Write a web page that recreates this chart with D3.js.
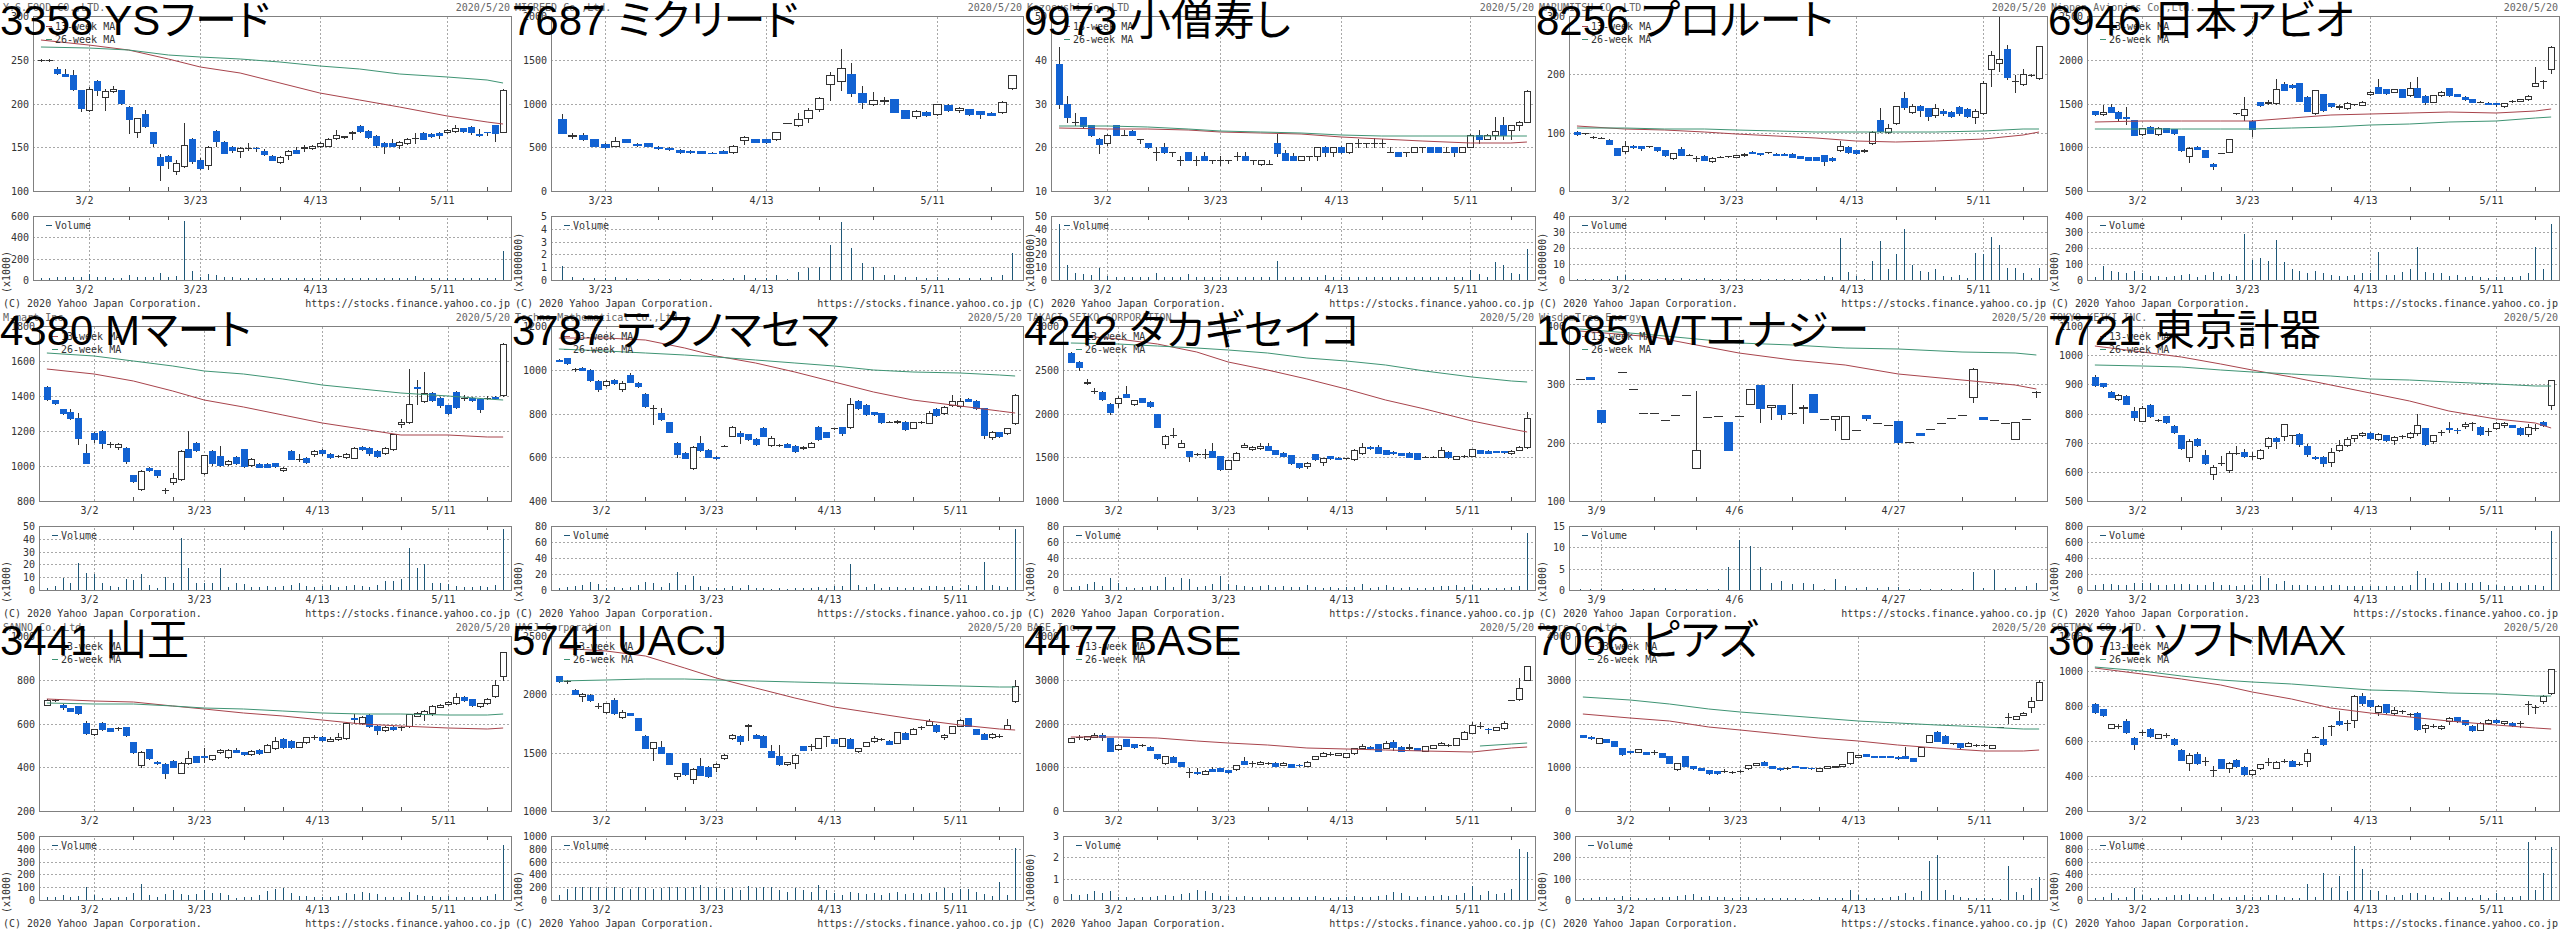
<!DOCTYPE html>
<html><head><meta charset="utf-8">
<script src="https://cdn.jsdelivr.net/npm/d3@7"></script>
<style>body{margin:0;background:#fff}svg{display:block}</style>
</head><body>
<script>
// ---------------- categories ----------------
const tradingDays = ["2/20","2/21","2/25","2/26","2/27","2/28","3/2","3/3","3/4","3/5","3/6","3/9","3/10","3/11","3/12","3/13","3/16","3/17","3/18","3/19","3/23","3/24","3/25","3/26","3/27","3/30","3/31","4/1","4/2","4/3","4/6","4/7","4/8","4/9","4/10","4/13","4/14","4/15","4/16","4/17","4/20","4/21","4/22","4/23","4/24","4/27","4/28","4/30","5/1","5/7","5/8","5/11","5/12","5/13","5/14","5/15","5/18","5/19","5/20"];
const days7687 = ["3/16","3/17","3/18","3/19","3/23","3/24","3/25","3/26","3/27","3/30","3/31","4/1","4/2","4/3","4/6","4/7","4/8","4/9","4/10","4/13","4/14","4/15","4/16","4/17","4/20","4/21","4/22","4/23","4/24","4/27","4/28","4/30","5/1","5/7","5/8","5/11","5/12","5/13","5/14","5/15","5/18","5/19","5/20"];
const days1685 = ["3/5","3/6","3/9","3/10","3/11","3/12","3/13","3/16","3/18","3/19","3/25","3/30","3/31","4/2","4/3","4/6","4/7","4/8","4/9","4/10","4/13","4/14","4/15","4/16","4/17","4/20","4/21","4/22","4/23","4/24","4/27","4/28","4/30","5/1","5/7","5/8","5/11","5/12","5/13","5/14","5/15","5/18","5/19","5/20"];
const gridDates = ["3/2","3/23","4/13","5/11"];
const tickDates = ["3/9","3/16","3/30","4/6","4/20","4/27","5/18"];
const gridDates1685 = ["3/9","4/6","4/27"];
const tickDates1685 = ["3/16","3/30","4/13","4/20","5/11","5/18"];
const maWeeks = ["2/20","3/2","3/9","3/16","3/23","3/30","4/6","4/13","4/20","4/27","5/11","5/18","5/20"];
const maWeeks7687 = [];
const maSlots1685 = ["3/5","3/16","4/6","4/13","4/20","4/27","5/11","5/18","5/20"];
const ma26Weeks4477 = ["5/12","5/18","5/20"];

// ---------------- 3358 YSフード ----------------  [open, high, low, close]
const ohlc3358 = [[250,251,249,250],[250,251,249,250],[239,242,234,235],[234,240,231,232],[233,238,216,217],[215,216,191,195],[193,219,192,217],[226,227,210,216],[208,217,193,214],[214,220,213,217],[215,216,200,201],[196,197,166,182],[167,184,162,183],[188,193,173,174],[167,168,152,155],[139,142,113,130],[140,141,126,134],[123,135,120,132],[129,178,128,153],[159,161,132,134],[136,138,125,126],[130,151,125,150],[169,170,152,157],[156,157,143,144],[150,151,145,147],[146,150,139,149],[149,155,147,149.5],[149.5,150,146,149],[146,148,141,142],[140,141,135,136],[133,140,132,139],[141,147,137,146],[147,150,143,144],[149,153,146,150],[149,153,148,152],[151,156,150,154.5],[152,161,151,160],[161,170,160,164],[162,163,161,162.5],[166,169,160,168],[174,175,168,169],[169,170,161,162],[163,164,150,153],[155,156,144,151],[154.5,160,151,151.5],[153,157,149,156],[155,161,154,160],[160.5,166.7,155,161],[166,167,159,160],[165,166,162,163],[166,167,161,164],[168,171,166,169.7],[168.5,176,168,172],[171.5,172,168,169],[173.5,174,165,168],[165,171,163,164],[167.8,168,164,167.5],[175,176,157,166],[168,217,167,216]];
const vol3358 = [20,20,25,25,30,30,60,25,25,20,20,45,25,25,30,70,30,35,555,85,30,55,50,30,25,20,20,20,20,20,20,20,15,15,15,20,20,15,15,15,20,15,15,15,15,15,15,35,15,15,15,20,20,15,15,15,15,15,275];
const ma13_3358 = [272.6,267,261,251,242,235,223,212,204,196,186,179,177];
const ma26_3358 = [265,264,261,256,253.5,250.5,247,243,239.4,234,230,227,224];

// ---------------- 7687 ミクリード ----------------
const ohlc7687 = [[823,876,660,667],[625,665,610,645],[640,665,585,600],[590,600,510,520],[537,545,495,505],[520,620,510,568],[594,600,560,565],[535,545,515,525],[545,550,510,515],[505,510,480,490],[495,505,465,475],[470,480,440,450],[452,465,440,450],[457,462,435,440],[440,445,432,438],[455,465,435,440],[446,525,440,518],[580,630,533,617],[590,600,560,565],[590,600,550,558],[590,680,580,670],[773,773,773,773],[755,888,745,820],[830,952,792,926],[935,1075,920,1067],[1220,1365,1040,1322],[1258,1620,1150,1402],[1333,1460,1090,1116],[1116,1200,945,1013],[990,1135,985,1040],[1030,1080,995,1035],[1050,1055,900,907],[926,930,830,838],[861,925,830,918],[899,910,860,869],[876,1000,870,990],[979,990,920,926],[928,960,900,952],[937,940,870,876],[914,920,838,880],[895,900,865,870],[899,1025,895,1021],[1173,1325,1165,1322]];
const vol7687 = [1.09,0.26,0.18,0.13,0.13,0.26,0.12,0.05,0.05,0.05,0.05,0.05,0.05,0.05,0.05,0.05,0.18,0.39,0.18,0.18,0.39,0.05,0.65,0.96,1.04,2.73,4.56,2.47,1.35,1.04,0.39,0.39,0.26,0.26,0.18,0.26,0.13,0.13,0.13,0.13,0.26,0.39,2.08];

// ---------------- 9973 小僧寿し ----------------
const ohlc9973 = [[39,43,29,30],[30,31.8,25.8,26.8],[25.8,27.9,25.1,25.8],[26.8,27,24.5,24.9],[25,25.2,22.5,22.8],[22,22.2,18.8,20.7],[20.9,23,20.5,22.8],[25,25.2,22.8,22.9],[22.9,23.9,22.9,22.9],[23.8,24,22.8,22.9],[22,22,20.9,22],[20.9,21,19.9,20],[19,20.1,17.1,19],[20,20.9,18.7,18.9],[18.9,18.9,17.9,18.9],[17.1,17.9,16,17.1],[18.9,19,17,17.1],[17.1,17.9,16,17.1],[18.1,18.9,17,17.1],[17.1,17.1,16.3,17.1],[17.1,17.9,16,17.1],[17.1,17.1,16.4,17.1],[18.1,18.9,17.1,18.1],[18.1,18.9,17,17.1],[17.1,17.1,16.1,17.1],[16.1,17.1,16,17.1],[16.1,17.1,16.1,16.1],[20.9,23,18,18.8],[18.8,19.4,17,17.1],[18.1,18.7,17,17.1],[17.1,18,17,18],[18,18,17.1,18],[18,20,17.1,20],[20,20.2,17.9,18.9],[18.9,20,17.9,20],[20,20.2,18.8,18.9],[18.9,21,18.8,20.9],[20.9,22,20,20.9],[20.9,20.9,20,20.9],[20.9,22.2,20,20.9],[20.9,22,20,20.9],[19,20,19,19],[18.9,19,18,18],[18.9,18.9,17.9,18.9],[18.9,20,18.9,20],[20,20,18.9,20],[20,20,18.9,18.9],[20,20,18.9,18.9],[18.9,20,18.9,18.9],[20,20,17.9,18.9],[18.9,20,18.9,20],[20,23,20,22.9],[22.9,23.9,20.9,22],[22,23,22,22.9],[22.9,27,22,23.8],[25,27,22,22.9],[23.9,25,22,25],[25,26,23.9,25.8],[25.8,33,25.8,32.9]];
const vol9973 = [43.7,11.7,5.2,4.7,3.9,9.6,3.1,2.6,2.6,2.6,2.6,2.6,5.7,2.6,2.6,2.6,4.7,2.6,2.6,2.6,2.1,2.1,2.6,2.6,2.6,2.1,2.1,14.8,2.6,2.6,2.1,2.1,2.6,3.9,2.6,2.6,2.1,2.1,2.1,2.1,2.1,2.1,2.1,2.1,2.6,2.1,2.1,2.1,2.1,2.1,2.1,7.8,4.7,2.6,13.8,11.7,5.7,4.7,24];
const ma13_9973 = [24.3,24.2,24.1,23.9,23.6,23.3,23.0,22.4,22.0,21.5,20.9,21.0,21.1];
const ma26_9973 = [24.9,24.8,24.6,24.1,23.8,23.5,23.2,22.7,22.6,22.6,22.6,22.6,22.6];

// ---------------- 8256 プロルート ----------------
const ohlc8256 = [[101,103,96,98],[99,100,98,99],[93,94,91,93],[91.5,92.5,90.5,91.5],[88,89,80,81],[73,74,62,62.5],[68,85,66,77],[78,79,74,75],[77,78,70,74],[76.7,77.5,76,76.7],[75,76,69,70],[70,71,60,61],[57,66,55,65],[72,75,62,62.5],[62.5,63.5,61.5,62.5],[56.8,59.7,51,56.8],[60,61,53,54],[51,58,50,57],[58.5,59.5,57.5,58.5],[59.7,60.5,59,59.7],[58.5,62,58,62],[61,65,60,64],[67.6,68,65,65.3],[65,66,62.5,63],[66.5,67,66,66.5],[64,65,61.5,62],[64,65,61.5,62],[64,65,58,58.5],[59.7,60.5,56,56.3],[58.5,59,53.5,54],[58.5,59,53.5,54],[61,62,45,51],[57.4,58,52,52.8],[70,85,68,77],[75,77,66,67],[70,71,64,65],[68.2,72,67,71],[82.4,103,80,102],[122,142,102,103],[102,115,100,108],[116.5,146,115,145],[160,170,140,144],[135,150,133,145],[145,147,129,139],[142,143,122,129],[129.5,150,127,142],[137.5,140,131,133.5],[136,138,127,129],[144,146,131,133.5],[140,142,127,129],[127,140,116,137.5],[133.5,188,132,186],[210,240,180,234],[219,298,205,227],[242.6,250,192,196],[188.6,199,169,188.6],[183.5,210,182,200],[199,200,197,199],[193,249,192,248]];
const vol8256 = [0.8,0.6,0.6,0.6,0.8,2.5,3.1,0.6,0.6,0.5,0.6,1,0.6,1,0.6,0.8,1,0.6,0.5,0.5,0.5,0.5,0.5,0.5,0.5,0.5,0.5,0.5,0.5,0.5,0.5,2.5,2.1,26.5,5.2,2.5,0.8,11.9,24.6,6.7,16.2,31.9,9.4,5.8,5.2,6.7,2.5,1.7,3.1,1,17,16,27,21.9,7.3,7.3,4.2,1,7.3];
const ma13_8256 = [110.8,106,104,101,98,95,90.5,86,84,85,88.5,96,101];
const ma26_8256 = [108,107.5,107,105.5,104.5,103,101.5,100.5,100.6,101,103,105.5,106.8];

// ---------------- 6946 日本アビオ ----------------
const ohlc6946 = [[1414,1420,1370,1376],[1376,1480,1370,1407],[1464,1490,1400,1407],[1407,1410,1310,1330],[1342,1456,1265,1330],[1311,1315,1135,1140],[1148,1225,1140,1216],[1235,1240,1160,1167],[1148,1230,1140,1216],[1216,1225,1170,1178],[1205,1210,1150,1159],[1129,1130,960,968],[904,1000,835,988],[1003,1010,975,984],[968,970,890,892],[808,815,748,786],[938,940,935,938],[950,1095,945,1091],[1388,1390,1385,1388],[1369,1580,1311,1433],[1304,1310,1129,1205],[1513,1520,1470,1483],[1505,1540,1500,1512],[1502,1776,1495,1662],[1723,1750,1650,1654],[1711,1720,1680,1692],[1730,1735,1530,1532],[1578,1590,1410,1418],[1388,1660,1385,1654],[1604,1610,1420,1426],[1502,1510,1460,1471],[1460,1480,1433,1475],[1445,1515,1440,1502],[1490,1500,1480,1490],[1483,1530,1480,1521],[1604,1640,1595,1627],[1685,1776,1620,1624],[1662,1670,1610,1616],[1635,1670,1630,1662],[1662,1670,1570,1578],[1597,1750,1590,1673],[1673,1807,1570,1578],[1589,1595,1490,1521],[1521,1600,1515,1597],[1597,1640,1590,1627],[1673,1680,1590,1597],[1604,1610,1585,1589],[1578,1585,1540,1548],[1548,1555,1515,1521],[1521,1530,1512,1521],[1510,1515,1495,1500],[1502,1510,1470,1490],[1471,1505,1465,1502],[1529,1540,1520,1529],[1529,1555,1525,1548],[1548,1595,1540,1589],[1700,1921,1695,1738],[1757,1770,1680,1757],[1890,2155,1845,2150]];
const vol6946 = [21,87,56,52,46,58,46,25,25,21,25,31,35,17,31,52,25,37,25,287,125,140,119,250,115,67,58,42,58,42,31,25,25,31,42,46,173,31,31,52,67,204,52,46,42,25,31,21,25,21,10,17,21,17,25,42,204,67,348];
const ma13_6946 = [1292,1296,1300,1300,1304,1330,1365,1385,1395,1400,1395,1415,1437];
const ma26_6946 = [1205,1205,1205,1205,1205,1215,1235,1255,1270,1285,1305,1330,1342];

// ---------------- 4380 Mマート ----------------
const ohlc4380 = [[1453,1460,1380,1385],[1377,1380,1355,1362],[1324,1328,1300,1305],[1309,1324,1270,1276],[1276,1305,1124,1162],[1072,1124,1015,1019],[1190,1195,1140,1152],[1200,1205,1105,1130],[1124,1135,1110,1124],[1109,1130,1100,1128],[1105,1110,1020,1029],[947,950,910,914],[870,975,865,971],[990,995,970,977],[975,980,940,947],[863,876,848,863],[909,960,900,933],[924,1090,920,1086],[1095,1200,1050,1053],[1133,1135,1085,1091],[958,1065,955,1061],[1086,1090,1005,1015],[1057,1115,1000,1004],[1010,1035,1005,1029],[1053,1060,1010,1015],[1095,1100,995,1000],[1004,1045,1000,1042],[1010,1015,992,996],[1010,1015,992,996],[1015,1020,995,1000],[975,995,970,990],[1086,1090,1040,1042],[1042,1067,1029,1042],[1044,1050,1020,1025],[1067,1090,1060,1086],[1091,1095,1065,1072],[1067,1072,1048,1053],[1057,1065,1050,1057],[1051,1072,1048,1067],[1048,1110,1045,1105],[1109,1115,1090,1095],[1105,1110,1065,1072],[1086,1090,1050,1057],[1072,1110,1068,1105],[1095,1185,1090,1181],[1238,1267,1225,1251],[1251,1552,1245,1356],[1453,1490,1352,1448],[1372,1539,1365,1415],[1419,1425,1370,1377],[1390,1395,1340,1347],[1347,1350,1300,1305],[1425,1430,1330,1337],[1390,1403,1380,1390],[1390,1395,1370,1375],[1381,1390,1309,1328],[1390,1398,1382,1390],[1396,1400,1382,1387],[1404,1700,1400,1699]];
const vol4380 = [1.3,3.1,9.1,5.2,21.4,13.5,12.2,5.2,3.1,2.6,8.3,7.8,12.5,3.9,1.3,10.4,5.2,40.4,16.9,5.7,5.2,5.7,17.4,2.6,5.7,4.7,2.6,2.1,3.1,2.1,3.1,3.9,5.2,3.1,2.6,3.1,3.9,2.6,3.1,3.9,3.1,2.6,3.9,7.3,7.3,8.3,33,17.4,20.3,5.7,5.2,4.7,3.1,2.6,2.6,3.1,2.6,3.9,47.6];
const ma13_4380 = [1556,1525,1485,1430,1380,1340,1290,1245,1210,1178,1175,1166,1168];
const ma26_4380 = [1648,1628,1600,1570,1545,1525,1497,1465,1440,1415,1398,1385,1377];

// ---------------- 3787 テクノマセマ ----------------
const ohlc3787 = [[1045,1047,1038,1040],[1052,1055,1025,1029],[1002,1010,995,1002],[1010,1012,997,999],[999,1002,950,953],[950,952,905,910],[930,955,925,950],[953,960,935,938],[910,950,905,941],[976,985,943,946],[941,945,920,926],[889,895,830,836],[824,839,750,824],[801,827,770,773],[760,762,715,717],[664,670,600,613],[618,622,595,598],[549,650,545,645],[667,697,630,633],[633,640,600,603],[603,606,594,596],[653,655,651,653],[699,745,695,740],[712,720,664,697],[705,708,680,683],[683,686,658,661],[732,740,695,697],[656,695,650,686],[656,662,650,656],[661,664,645,648],[651,654,626,629],[641,651,638,648],[648,670,645,667],[740,743,679,682],[714,717,691,694],[732,736,728,732],[737,740,700,712],[737,870,735,842],[857,860,820,824],[839,842,795,798],[805,808,795,798],[801,804,757,760],[763,767,759,763],[760,769,757,766],[763,766,726,729],[735,763,732,760],[763,768,758,763],[758,810,755,804],[820,823,790,793],[801,834,798,831],[839,885,835,859],[834,870,830,859],[866,869,856,859],[859,862,821,824],[824,826,687,702],[691,720,685,717],[714,717,694,697],[709,735,705,732],[755,887,750,885]];
const vol3787 = [2,4,5,6,10,7,3,4,3,4,6,10,9,4,9,22,6,17,5,4,3,3,5,3,6,2,2,1,2,1,2,2,3,4,3,5,5,32,6,4,7,3,4,4,3,4,3,5,5,4,5,2,6,5,35,6,5,4,76];
const ma13_3787 = [1146,1144,1135,1100,1065,1030,990,945,900,860,835,812,801];
const ma26_3787 = [1093,1085,1078,1068,1060,1045,1030,1016,1000,990,983,975,971];

// ---------------- 4242 タカギセイコ ----------------
const ohlc4242 = [[2688,2700,2590,2593],[2593,2600,2500,2528],[2345,2400,2340,2364],[2257,2290,2235,2257],[2250,2255,2160,2162],[2109,2115,1995,2021],[2124,2200,2080,2174],[2223,2314,2190,2193],[2105,2160,2100,2155],[2174,2180,2130,2135],[2135,2140,2080,2086],[1994,2000,1845,1850],[1648,1750,1602,1743],[1754,1830,1735,1754],[1621,1697,1615,1667],[1571,1575,1461,1514],[1537,1545,1530,1537],[1537,1600,1490,1537],[1575,1660,1500,1507],[1514,1520,1360,1366],[1366,1470,1362,1469],[1469,1555,1465,1552],[1621,1660,1615,1640],[1590,1625,1585,1621],[1602,1660,1598,1629],[1629,1667,1580,1583],[1583,1588,1533,1537],[1552,1556,1510,1514],[1526,1530,1428,1431],[1438,1440,1380,1385],[1400,1445,1373,1438],[1537,1540,1470,1476],[1450,1495,1408,1488],[1514,1518,1485,1488],[1495,1500,1477,1480],[1488,1495,1482,1488],[1476,1590,1470,1583],[1545,1667,1540,1613],[1621,1625,1598,1602],[1613,1640,1548,1552],[1583,1587,1533,1537],[1564,1568,1541,1545],[1545,1549,1522,1526],[1552,1556,1503,1507],[1545,1549,1476,1480],[1507,1512,1502,1507],[1507,1512,1502,1507],[1507,1613,1505,1583],[1564,1568,1495,1499],[1480,1518,1476,1514],[1514,1530,1505,1514],[1514,1600,1510,1590],[1583,1587,1548,1552],[1575,1579,1548,1552],[1570,1574,1556,1560],[1570,1574,1552,1556],[1545,1579,1541,1575],[1583,1630,1580,1621],[1613,2021,1610,1945]];
const vol4242 = [4,5,7.5,10.4,5,14.6,8.3,3.3,2,4,5,5,16.7,4,14.6,13.3,4,5,7.5,17.9,7.5,6,5,4,5,6,4,5,4,4,6,4,3,4,3,4,4,7.5,3,4,6,4,3,4,3,3,4,5,5,6,4,6,3,3,3,3,4,5,71.7];
const ma13_4242 = [2897,2850,2790,2700,2593,2500,2400,2280,2160,2050,1920,1820,1793];
const ma26_4242 = [2810,2790,2775,2745,2730,2690,2640,2595,2550,2490,2420,2370,2356];

// ---------------- 1685 WTエナジー ----------------
const ohlc1685 = [[310,310,310,310],[312,312,310,310],[256,256,233,235],null,[322,322,322,322],[292,292,292,292],[250.6,250.6,250.6,250.6],[250.6,250.6,250.6,250.6],[239,239,239,239],[247,247,247,247],[282,282,282,282],[157,289,157,188],[243.8,243.8,243.8,243.8],[245,245,245,245],[236,236,187,187],[245,245,245,245],[266.5,292,266,291.5],[299,299,235,259],[261,264,240,264],[264,264,240,249],[250.6,300,250,250.6],[259,264,233,262],[283,283,252,252],[241,241,241,241],[240,246,221,245],[206,245,206,245],[221,221,221,221],[246.6,247,239,242],[233.5,233.5,233.5,233.5],[229.5,229.5,229.5,229.5],[237.5,238,198,201],[202,202,202,202],[216.5,217,213,213.6],[223.3,223.3,223.3,223.3],[233.5,233.5,233.5,233.5],[242,242,242,242],[247.7,247.7,247.7,247.7],[279,328,270,327],[243.8,243.8,240,240],[239,239,239,239],[233.5,233.5,233.5,233.5],[206,235,206,235],[240,240,240,240],[287.5,288,278,287.5]];
const vol1685 = [0.1,0.2,0.2,0,0.2,0.2,0.2,0.4,0.4,0.2,0.2,0.2,0.2,0.2,5.3,11.7,10.3,5.5,1.6,2,1.4,1.6,1.4,0.2,2.5,0.9,0.4,0.8,0.4,0.6,0.8,0.2,0.2,0.2,0.2,0.2,0.2,4.3,0.4,4.7,0.4,0.8,0.9,1.6];
const ma13_1685 = [392,381,354,341.5,333,317.6,307,299,291.5];
const ma26_1685 = [395.5,384,371,367,363,360,355.7,353,350];

// ---------------- 7721 東京計器 ----------------
const ohlc7721 = [[925,932,895,898],[903,906,890,895],[873,876,855,857],[850,866,848,864],[860,862,832,834],[810,823,779,787],[776,825,774,819],[830,834,788,792],[779,782,776,779],[790,792,768,770],[756,762,732,736],[725,727,680,682],[652,712,637,705],[712,716,689,691],[659,675,627,629],[594,625,574,617],[630,655,625,630],[608,670,600,666],[666,689,662,666],[669,679,650,655],[655,668,645,655],[646,678,644,675],[689,720,682,716],[716,720,682,705],[722,765,708,763],[725,726,700,725],[729,732,690,695],[689,695,655,662],[652,655,645,647],[651,655,621,631],[635,682,621,669],[675,709,672,691],[693,720,690,714],[716,728,705,725],[725,738,722,733],[733,738,712,716],[712,732,708,729],[725,728,706,709],[709,722,695,720],[722,725,716,722],[718,736,715,733],[732,800,725,759],[749,752,692,695],[705,728,700,725],[736,742,725,736],[752,770,738,747],[745,752,732,743],[756,772,752,763],[766,772,745,766],[753,756,725,729],[739,749,727,739],[752,772,748,769],[759,770,755,767],[759,762,753,755],[752,755,727,729],[729,763,722,753],[752,765,742,752],[772,775,757,760],[830,916,817,914]];
const vol7721 = [63,73,73,63,63,82,82,82,63,63,73,73,73,63,63,97,63,63,48,63,63,170,145,73,107,63,63,63,48,48,63,63,48,48,48,48,48,48,48,48,63,243,145,82,82,97,82,82,87,97,63,63,48,48,48,63,63,48,737];
const ma13_7721 = [1030,1010,993,970,948,925,898,870,843,810,782,768,752];
const ma26_7721 = [965,962,958,950,943,935,928,920,915,908,900,896,895];

// ---------------- 3441 山王 ----------------
const ohlc3441 = [[685,710,683,707],[707,712,702,707],[685,688,665,674],[669,672,657,659],[680,682,642,650],[601,613,552,555],[551,576,548,573],[601,605,570,573],[578,580,565,567],[578,583,572,578],[582,585,545,547],[514,516,467,471],[410,473,403,471],[482,485,438,441],[425,428,415,418],[415,418,350,375],[430,433,400,403],[375,425,372,421],[418,474,415,441],[451,453,423,425],[451,490,425,445],[436,458,433,456],[468,482,465,479],[445,483,442,479],[479,486,468,471],[468,471,457,460],[460,479,457,476],[479,482,461,464],[471,505,468,502],[487,540,484,522],[528,532,488,491],[522,525,488,491],[494,517,491,514],[514,540,511,537],[537,548,530,537],[540,545,522,525],[522,540,518,529],[528,555,525,540],[532,605,528,601],[627,642,601,621],[601,635,598,631],[639,642,585,589],[589,592,550,570],[570,589,567,586],[586,589,570,573],[582,588,569,582],[589,645,585,642],[636,653,633,650],[642,660,615,657],[646,685,640,680],[677,688,674,685],[689,703,686,700],[692,741,690,720],[723,726,705,707],[710,713,682,685],[680,696,674,692],[692,715,690,710],[726,799,722,776],[817,927,799,925]];
const vol3441 = [26,21,39,21,31,104,39,13,13,26,26,52,122,39,26,47,78,47,39,47,78,52,57,39,13,26,21,39,73,83,91,57,31,31,21,26,26,31,52,47,65,57,47,26,21,26,65,39,31,31,21,31,26,26,21,26,31,47,430];
const ma13_3441 = [711,705,697,680,667,650,633,617,600,588,580,577,578];
const ma26_3441 = [692,691,690,682,673,665,657,650,645,642,641,641,642];

// ---------------- 5741 UACJ ----------------
const ohlc5741 = [[2154,2160,2105,2111],[2111,2125,2100,2111],[2040,2045,2000,2006],[1983,2010,1940,2003],[1997,2000,1945,1949],[1903,1926,1883,1903],[1846,1930,1840,1926],[1949,1969,1835,1840],[1803,1863,1800,1846],[1840,1843,1823,1826],[1798,1800,1695,1698],[1647,1650,1538,1541],[1541,1595,1441,1590],[1547,1598,1495,1499],[1499,1500,1400,1407],[1299,1325,1276,1322],[1413,1415,1310,1313],[1276,1365,1242,1362],[1385,1456,1305,1308],[1379,1382,1290,1299],[1379,1410,1342,1407],[1456,1487,1450,1484],[1627,1660,1620,1655],[1647,1650,1578,1598],[1726,1745,1612,1741],[1655,1658,1624,1627],[1647,1650,1547,1550],[1513,1570,1460,1464],[1470,1564,1395,1399],[1399,1422,1396,1419],[1413,1487,1370,1484],[1556,1559,1524,1527],[1561,1578,1527,1561],[1541,1630,1538,1627],[1641,1647,1561,1641],[1618,1621,1581,1584],[1561,1630,1558,1627],[1621,1624,1538,1541],[1513,1544,1510,1541],[1556,1593,1553,1590],[1598,1640,1595,1627],[1618,1630,1605,1618],[1604,1607,1575,1578],[1584,1680,1580,1675],[1670,1673,1618,1621],[1664,1710,1660,1704],[1718,1730,1705,1718],[1741,1792,1738,1769],[1741,1744,1681,1684],[1635,1660,1621,1655],[1670,1729,1667,1726],[1732,1790,1730,1783],[1798,1800,1728,1732],[1704,1707,1661,1664],[1664,1667,1615,1618],[1635,1665,1630,1661],[1647,1660,1635,1647],[1707,1792,1705,1735],[1940,2125,1935,2068]];
const vol5741 = [78,167,208,208,198,208,182,208,182,167,208,182,167,182,208,208,182,208,234,208,182,167,182,156,219,182,208,208,156,130,182,156,130,234,156,115,78,130,115,94,115,78,115,130,94,104,94,115,130,182,115,167,167,130,94,63,286,78,818];
const ma13_5741 = [2396,2375,2330,2230,2140,2055,1970,1890,1840,1790,1740,1705,1692];
const ma26_5741 = [2117,2125,2131,2130,2125,2115,2103,2095,2085,2077,2070,2062,2060];

// ---------------- 4477 BASE ----------------
const ohlc4477 = [[1585,1670,1580,1661],[1684,1730,1650,1684],[1638,1720,1630,1714],[1699,1790,1695,1737],[1737,1790,1623,1684],[1661,1670,1365,1372],[1410,1525,1400,1516],[1638,1645,1480,1486],[1532,1540,1450,1455],[1509,1540,1480,1509],[1470,1475,1390,1394],[1303,1310,1200,1204],[1090,1265,1080,1257],[1242,1250,1120,1128],[1128,1130,1020,1029],[899,990,785,899],[899,975,840,876],[846,930,840,922],[952,1013,910,914],[975,980,915,922],[937,942,880,884],[952,1058,948,1052],[1150,1227,1070,1074],[1090,1150,1030,1090],[1074,1135,1070,1128],[1105,1130,1080,1105],[1105,1110,1025,1029],[1052,1110,1048,1105],[1074,1080,995,998],[1055,1065,1040,1052],[1029,1135,1025,1128],[1181,1262,1178,1257],[1257,1340,1252,1334],[1303,1340,1270,1303],[1280,1325,1275,1318],[1242,1325,1238,1318],[1318,1440,1310,1433],[1433,1532,1430,1486],[1470,1480,1428,1433],[1532,1540,1375,1379],[1433,1608,1430,1547],[1585,1623,1395,1470],[1470,1475,1375,1379],[1433,1530,1428,1455],[1433,1440,1390,1394],[1379,1490,1375,1486],[1433,1515,1430,1509],[1509,1570,1505,1562],[1509,1540,1480,1509],[1509,1665,1505,1661],[1638,1820,1635,1814],[1791,2042,1780,1966],[1943,2040,1890,1943],[1880,1890,1790,1867],[1852,1920,1848,1913],[1890,2057,1880,2019],[2537,2540,2534,2537],[2553,3033,2540,2804],[2995,3320,2990,3315]];
const vol4477 = [0.28,0.23,0.27,0.42,0.31,0.42,0.16,0.13,0.11,0.13,0.16,0.19,0.23,0.19,0.28,0.31,0.47,0.42,0.31,0.19,0.19,0.16,0.19,0.16,0.13,0.13,0.16,0.16,0.16,0.16,0.16,0.19,0.13,0.11,0.13,0.16,0.19,0.16,0.13,0.19,0.23,0.39,0.31,0.19,0.16,0.19,0.19,0.23,0.19,0.23,0.34,0.67,0.23,0.42,0.28,0.34,0.5,2.38,2.23];
const ma13_4477 = [1699,1690,1670,1610,1562,1500,1448,1410,1385,1370,1356,1430,1471];
const ma26_4477 = [1494,1530,1547];

// ---------------- 7066 ピアズ ----------------
const ohlc7066 = [[1737,1745,1690,1699],[1699,1705,1655,1661],[1562,1670,1555,1661],[1646,1650,1580,1585],[1600,1605,1480,1486],[1433,1440,1290,1303],[1372,1378,1335,1341],[1356,1415,1350,1410],[1356,1360,1298,1303],[1341,1390,1300,1341],[1318,1322,1238,1242],[1257,1262,1100,1105],[952,1095,945,1090],[1257,1262,1025,1029],[1036,1040,970,975],[975,980,932,937],[937,942,856,861],[914,918,856,861],[922,960,890,922],[899,905,860,899],[914,940,890,914],[975,1056,970,1052],[1052,1094,1048,1090],[1128,1133,1048,1052],[1029,1033,985,990],[990,994,948,952],[990,1010,970,990],[1036,1040,1009,1013],[1013,1017,986,990],[990,994,971,975],[914,994,910,990],[990,1040,986,1036],[1013,1040,1009,1036],[1036,1078,1032,1074],[1090,1360,1085,1356],[1242,1284,1238,1280],[1295,1299,1253,1257],[1257,1261,1223,1227],[1257,1261,1223,1227],[1257,1261,1223,1227],[1242,1246,1200,1204],[1257,1455,1215,1219],[1204,1208,1139,1143],[1257,1459,1253,1455],[1585,1741,1581,1737],[1814,1830,1600,1608],[1722,1726,1543,1547],[1547,1551,1530,1547],[1547,1551,1451,1455],[1486,1566,1482,1562],[1509,1530,1490,1509],[1509,1525,1495,1509],[1433,1513,1429,1509],[1913,1913,1913,1913],[2141,2248,2004,2141],[2096,2176,2092,2172],[2195,2252,2191,2248],[2370,2614,2260,2522],[2537,2995,2530,2957]];
const vol7066 = [8,11,12,16,8,19,12,11,8,8,12,16,19,23,28,16,19,16,12,8,12,16,8,8,8,8,11,8,6,6,16,8,8,8,47,23,8,8,8,12,19,31,16,44,184,211,47,23,16,8,8,8,8,3,159,39,23,55,109];
const ma13_7066 = [2210,2130,2050,1930,1852,1760,1680,1600,1520,1440,1372,1380,1394];
const ma26_7066 = [2598,2530,2440,2340,2271,2200,2135,2065,2010,1960,1913,1880,1867];

// ---------------- 3671 ソフトMAX ----------------
const ohlc3671 = [[811,815,762,766],[781,785,745,748],[675,700,672,698],[687,700,675,687],[714,725,645,651],[619,625,552,585],[651,665,635,651],[669,675,625,628],[619,642,616,639],[635,645,625,635],[612,615,580,583],[549,552,490,493],[473,530,432,522],[527,535,470,473],[488,510,465,488],[432,460,400,432],[495,498,445,448],[443,480,425,477],[493,500,450,455],[450,455,405,410],[414,440,403,437],[443,470,438,466],[482,505,465,482],[448,485,445,482],[488,500,480,488],[488,491,456,459],[470,482,462,470],[488,552,455,529],[624,627,621,624],[612,680,580,583],[687,690,635,687],[714,770,690,698],[703,718,665,703],[720,865,680,860],[860,875,808,820],[833,836,797,800],[764,805,750,800],[811,814,761,764],[759,797,755,777],[770,778,762,770],[754,762,745,754],[759,765,665,669],[673,695,651,691],[687,695,680,687],[673,690,670,687],[714,735,696,729],[736,739,711,714],[718,721,693,696],[687,690,659,662],[664,706,661,703],[703,723,700,720],[720,723,704,707],[703,717,700,714],[703,706,688,691],[703,712,680,703],[811,827,754,811],[793,804,760,793],[831,865,815,860],[876,1013,870,1011]];
const vol3671 = [31,49,110,31,49,190,80,31,31,49,80,80,92,49,49,92,31,49,49,80,49,49,80,80,49,31,31,252,49,417,190,374,141,847,479,153,141,80,49,80,110,110,80,49,31,129,49,49,31,80,31,110,49,49,67,908,160,417,828];
const ma13_3671 = [1018,985,955,920,880,840,786,762,738,712,690,673,669];
const ma26_3671 = [1022,1000,973,950,940,928,910,893,885,875,866,860,860];

// ---------------- panel definitions ----------------
const panels = [
 {code:"3358 YSフード", company:"Y.S.FOOD CO.,LTD.", dates:tradingDays, ohlc:ohlc3358, vol:vol3358, ma13:ma13_3358, ma13Dates:maWeeks, ma26:ma26_3358, ma26Dates:maWeeks, yDomain:[100,300], yStep:50, volMax:600, volStep:200, volUnit:"(x1000)", grid:gridDates, ticks:tickDates},
 {code:"7687 ミクリード", company:"MICREED Co.,Ltd.", dates:days7687, ohlc:ohlc7687, vol:vol7687, ma13:null, ma13Dates:maWeeks7687, ma26:null, ma26Dates:maWeeks7687, yDomain:[0,2000], yStep:500, volMax:5, volStep:1, volUnit:"(x1000000)", grid:gridDates, ticks:tickDates},
 {code:"9973 小僧寿し", company:"Kozosushi Co.,LTD", dates:tradingDays, ohlc:ohlc9973, vol:vol9973, ma13:ma13_9973, ma13Dates:maWeeks, ma26:ma26_9973, ma26Dates:maWeeks, yDomain:[10,50], yStep:10, volMax:50, volStep:10, volUnit:"(x1000000)", grid:gridDates, ticks:tickDates},
 {code:"8256 プロルート", company:"MARUMITSU CO.,LTD.", dates:tradingDays, ohlc:ohlc8256, vol:vol8256, ma13:ma13_8256, ma13Dates:maWeeks, ma26:ma26_8256, ma26Dates:maWeeks, yDomain:[0,300], yStep:100, volMax:40, volStep:10, volUnit:"(x1000000)", grid:gridDates, ticks:tickDates},
 {code:"6946 日本アビオ", company:"Nippon Avionics Co.,Ltd.", dates:tradingDays, ohlc:ohlc6946, vol:vol6946, ma13:ma13_6946, ma13Dates:maWeeks, ma26:ma26_6946, ma26Dates:maWeeks, yDomain:[500,2500], yStep:500, volMax:400, volStep:100, volUnit:"(x1000)", grid:gridDates, ticks:tickDates},
 {code:"4380 Mマート", company:"M-mart Inc.", dates:tradingDays, ohlc:ohlc4380, vol:vol4380, ma13:ma13_4380, ma13Dates:maWeeks, ma26:ma26_4380, ma26Dates:maWeeks, yDomain:[800,1800], yStep:200, volMax:50, volStep:10, volUnit:"(x1000)", grid:gridDates, ticks:tickDates},
 {code:"3787 テクノマセマ", company:"Techno Mathematical Co.,Ltd.", dates:tradingDays, ohlc:ohlc3787, vol:vol3787, ma13:ma13_3787, ma13Dates:maWeeks, ma26:ma26_3787, ma26Dates:maWeeks, yDomain:[400,1200], yStep:200, volMax:80, volStep:20, volUnit:"(x1000)", grid:gridDates, ticks:tickDates},
 {code:"4242 タカギセイコ", company:"TAKAGI SEIKO CORPORATION", dates:tradingDays, ohlc:ohlc4242, vol:vol4242, ma13:ma13_4242, ma13Dates:maWeeks, ma26:ma26_4242, ma26Dates:maWeeks, yDomain:[1000,3000], yStep:500, volMax:80, volStep:20, volUnit:"(x1000)", grid:gridDates, ticks:tickDates},
 {code:"1685 WTエナジー", company:"WisdomTree Energy", dates:days1685, ohlc:ohlc1685, vol:vol1685, ma13:ma13_1685, ma13Dates:maSlots1685, ma26:ma26_1685, ma26Dates:maSlots1685, yDomain:[100,400], yStep:100, volMax:15, volStep:5, volUnit:"(x1000)", grid:gridDates1685, ticks:tickDates1685},
 {code:"7721 東京計器", company:"TOKYO KEIKI INC.", dates:tradingDays, ohlc:ohlc7721, vol:vol7721, ma13:ma13_7721, ma13Dates:maWeeks, ma26:ma26_7721, ma26Dates:maWeeks, yDomain:[500,1100], yStep:100, volMax:800, volStep:200, volUnit:"(x1000)", grid:gridDates, ticks:tickDates},
 {code:"3441 山王", company:"SANNO Co.,Ltd.", dates:tradingDays, ohlc:ohlc3441, vol:vol3441, ma13:ma13_3441, ma13Dates:maWeeks, ma26:ma26_3441, ma26Dates:maWeeks, yDomain:[200,1000], yStep:200, volMax:500, volStep:100, volUnit:"(x1000)", grid:gridDates, ticks:tickDates},
 {code:"5741 UACJ", company:"UACJ Corporation", dates:tradingDays, ohlc:ohlc5741, vol:vol5741, ma13:ma13_5741, ma13Dates:maWeeks, ma26:ma26_5741, ma26Dates:maWeeks, yDomain:[1000,2500], yStep:500, volMax:1000, volStep:200, volUnit:"(x1000)", grid:gridDates, ticks:tickDates},
 {code:"4477 BASE", company:"BASE,Inc.", dates:tradingDays, ohlc:ohlc4477, vol:vol4477, ma13:ma13_4477, ma13Dates:maWeeks, ma26:ma26_4477, ma26Dates:ma26Weeks4477, yDomain:[0,4000], yStep:1000, volMax:3, volStep:1, volUnit:"(x1000000)", grid:gridDates, ticks:tickDates},
 {code:"7066 ピアズ", company:"Peers Co.,Ltd.", dates:tradingDays, ohlc:ohlc7066, vol:vol7066, ma13:ma13_7066, ma13Dates:maWeeks, ma26:ma26_7066, ma26Dates:maWeeks, yDomain:[0,4000], yStep:1000, volMax:300, volStep:100, volUnit:"(x1000)", grid:gridDates, ticks:tickDates},
 {code:"3671 ソフトMAX", company:"SOFTMAX CO.,LTD.", dates:tradingDays, ohlc:ohlc3671, vol:vol3671, ma13:ma13_3671, ma13Dates:maWeeks, ma26:ma26_3671, ma26Dates:maWeeks, yDomain:[200,1200], yStep:200, volMax:1000, volStep:200, volUnit:"(x1000)", grid:gridDates, ticks:tickDates}
];

// ---------------- drawing ----------------
const MONO = "'DejaVu Sans Mono', 'Liberation Mono', monospace";
const TITLE_FONT = "'Liberation Sans', 'Noto Sans CJK JP', sans-serif";
const C_UP_STROKE = "#333", C_DOWN = "#1262d2", C_WICK = "#333", C_VOL = "#1f5878";
const C_MA13 = "#a8444c", C_MA26 = "#3f9474", C_GRID = "#a8a8a8", C_FRAME = "#808080", C_TEXT = "#333";
const PW = 512, PH = 310;

const svg = d3.select("body").append("svg").attr("width", 2560).attr("height", 930)
  .style("background", "#fff");

function styleText(sel, color) {
  return sel.attr("font-family", MONO).attr("font-size", 10).attr("fill", color || C_TEXT);
}

function drawPanel(p, k) {
  const g = svg.append("g").attr("transform", `translate(${(k % 5) * PW},${Math.floor(k / 5) * PH})`);
  const yTicks = d3.range(p.yDomain[0], p.yDomain[1] + p.yStep / 2, p.yStep);
  const vTicks = d3.range(0, p.volMax + p.volStep / 2, p.volStep);
  const maxChars = d3.max(yTicks.concat(vTicks), d => String(d).length);
  const L = 15 + maxChars * 6, R = 511, PT = 16, PB = 191, VT = 216, VB = 280;

  const x = d3.scalePoint().domain(p.dates).range([L, R]).padding(1);
  const xr = d3.scaleOrdinal().domain(p.dates).range(p.dates.map(d => Math.round(x(d))));
  const y = d3.scaleLinear().domain(p.yDomain).rangeRound([PB, PT]);
  const yv = d3.scaleLinear().domain([0, p.volMax]).rangeRound([VB, VT]);
  const half = Math.round(x.step() * 0.375);
  const bw = 2 * half + 1;
  const inDomain = d => p.dates.indexOf(d) >= 0;
  const gridD = p.grid.filter(inDomain);
  const tickD = p.ticks.filter(d => p.dates.indexOf(d) > 0);

  // header
  styleText(g.append("text").attr("x", 3).attr("y", 11).text(p.company), "#666");
  styleText(g.append("text").attr("x", 510).attr("y", 11).attr("text-anchor", "end").text("2020/5/20"), "#666");

  const gridStyle = s => { s.select(".domain").remove(); s.selectAll("line").attr("stroke", C_GRID).attr("stroke-dasharray", "2,2"); };
  // horizontal grid
  g.append("g").attr("transform", `translate(${L},0)`)
    .call(d3.axisLeft(y).tickValues(yTicks).tickSize(-(R - L)).tickFormat("")).call(gridStyle);
  g.append("g").attr("transform", `translate(${L},0)`)
    .call(d3.axisLeft(yv).tickValues(vTicks).tickSize(-(R - L)).tickFormat("")).call(gridStyle);
  // vertical grid
  g.append("g").attr("transform", `translate(0,${PB})`)
    .call(d3.axisBottom(xr).tickValues(gridD).tickSize(-(PB - PT)).tickFormat("")).call(gridStyle);
  g.append("g").attr("transform", `translate(0,${VB})`)
    .call(d3.axisBottom(xr).tickValues(gridD).tickSize(-(VB - VT)).tickFormat("")).call(gridStyle);

  // frames
  [[PT, PB], [VT, VB]].forEach(([t, b]) => {
    g.append("rect").attr("x", L + 0.5).attr("y", t + 0.5).attr("width", R - L).attr("height", b - t)
      .attr("fill", "none").attr("stroke", C_FRAME);
  });

  // minor week ticks
  const tickStyle = s => { s.select(".domain").remove(); s.selectAll("line").attr("stroke", "#555"); };
  g.append("g").attr("transform", `translate(0,${PB})`)
    .call(d3.axisBottom(xr).tickValues(tickD).tickSize(-4).tickFormat("")).call(tickStyle);
  g.append("g").attr("transform", `translate(0,${VT})`)
    .call(d3.axisTop(xr).tickValues(tickD).tickSize(-4).tickFormat("")).call(tickStyle);

  // y labels
  const labStyle = s => { s.select(".domain").remove(); s.selectAll("text").call(t => styleText(t)); s.attr("font-size", null).attr("font-family", null); };
  g.append("g").attr("transform", `translate(${L - 4},0)`)
    .call(d3.axisLeft(y).tickValues(yTicks).tickSize(0).tickPadding(0).tickFormat(d => String(d))).call(labStyle);
  g.append("g").attr("transform", `translate(${L - 4},0)`)
    .call(d3.axisLeft(yv).tickValues(vTicks).tickSize(0).tickPadding(0).tickFormat(d => String(d))).call(labStyle);
  // x labels
  [200, 289].forEach(yy => {
    g.append("g").attr("transform", `translate(0,${yy})`)
      .call(d3.axisBottom(xr).tickValues(gridD).tickSize(0).tickPadding(0))
      .call(labStyle)
      .call(s => s.selectAll("text").attr("y", 0).attr("dy", "0.35em").attr("dx", -5));
  });

  // volume unit
  styleText(g.append("text").attr("transform", "translate(10,293) rotate(-90)").text(p.volUnit));

  // volume bars
  const volData = p.vol.map((v, i) => ({ d: p.dates[i], v })).filter(o => o.v > 0);
  g.append("g").selectAll("line").data(volData).join("line")
    .attr("x1", o => xr(o.d) + 0.5).attr("x2", o => xr(o.d) + 0.5)
    .attr("y1", yv(0)).attr("y2", o => Math.min(yv(0) - 1, yv(o.v)))
    .attr("stroke", C_VOL).attr("stroke-width", 1);

  // candles
  const cData = p.ohlc.map((c, i) => c ? { d: p.dates[i], o: c[0], h: c[1], l: c[2], c: c[3] } : null).filter(Boolean);
  const cg = g.append("g");
  cg.selectAll("line.wick").data(cData.filter(o => y(o.l) - y(o.h) >= 1)).join("line").attr("class", "wick")
    .attr("x1", o => xr(o.d) + 0.5).attr("x2", o => xr(o.d) + 0.5)
    .attr("y1", o => y(o.h)).attr("y2", o => y(o.l) + 1)
    .attr("stroke", C_WICK);
  const bodies = cData.map(o => {
    const top = y(Math.max(o.o, o.c)), bot = y(Math.min(o.o, o.c));
    return Object.assign({ top, bot }, o);
  });
  cg.selectAll("line.doji").data(bodies.filter(b => b.bot - b.top < 1)).join("line").attr("class", "doji")
    .attr("x1", b => xr(b.d) - half).attr("x2", b => xr(b.d) + half + 1)
    .attr("y1", b => b.top + 0.5).attr("y2", b => b.top + 0.5)
    .attr("stroke", b => b.c < b.o ? C_DOWN : C_WICK);
  cg.selectAll("rect.up").data(bodies.filter(b => b.bot - b.top >= 1 && b.c > b.o)).join("rect").attr("class", "up")
    .attr("x", b => xr(b.d) - half + 0.5).attr("y", b => b.top + 0.5)
    .attr("width", bw - 1).attr("height", b => b.bot - b.top)
    .attr("fill", "#fff").attr("stroke", C_UP_STROKE);
  cg.selectAll("rect.down").data(bodies.filter(b => b.bot - b.top >= 1 && b.c <= b.o)).join("rect").attr("class", "down")
    .attr("x", b => xr(b.d) - half).attr("y", b => b.top)
    .attr("width", bw).attr("height", b => b.bot - b.top + 1)
    .attr("fill", C_DOWN);

  // moving averages
  const line = d3.line().x(o => x(o.d)).y(o => y(o.v));
  [[p.ma13, p.ma13Dates, C_MA13], [p.ma26, p.ma26Dates, C_MA26]].forEach(([vals, ds, col]) => {
    if (!vals) return;
    const pts = vals.map((v, i) => ({ d: ds[i], v }));
    g.append("path").datum(pts).attr("d", line).attr("fill", "none").attr("stroke", col).attr("stroke-width", 1);
  });

  // legends
  const legend = (yy, col, label) => {
    g.append("line").attr("x1", L + 13).attr("x2", L + 19).attr("y1", yy + 0.5).attr("y2", yy + 0.5).attr("stroke", col);
    styleText(g.append("text").attr("x", L + 22).attr("y", yy + 3.5).text(label));
  };
  if (p.ma13) legend(26, C_MA13, "13-week MA");
  if (p.ma26) legend(39, C_MA26, "26-week MA");
  legend(225, C_VOL, "Volume");

  // footer
  styleText(g.append("text").attr("x", 3).attr("y", 306.5).text("(C) 2020 Yahoo Japan Corporation."));
  styleText(g.append("text").attr("x", 510).attr("y", 306.5).attr("text-anchor", "end").text("https://stocks.finance.yahoo.co.jp"));

  return g;
}

const groups = panels.map(drawPanel);
// big titles on top of everything
panels.forEach((p, k) => {
  svg.append("text")
    .attr("x", (k % 5) * PW)
    .attr("y", Math.floor(k / 5) * PH + 35)
    .attr("font-family", TITLE_FONT)
    .attr("font-size", 42)
    .attr("fill", "#000")
    .style("font-feature-settings", "'palt' 1")
    .text(p.code);
});
</script>
</body></html>
